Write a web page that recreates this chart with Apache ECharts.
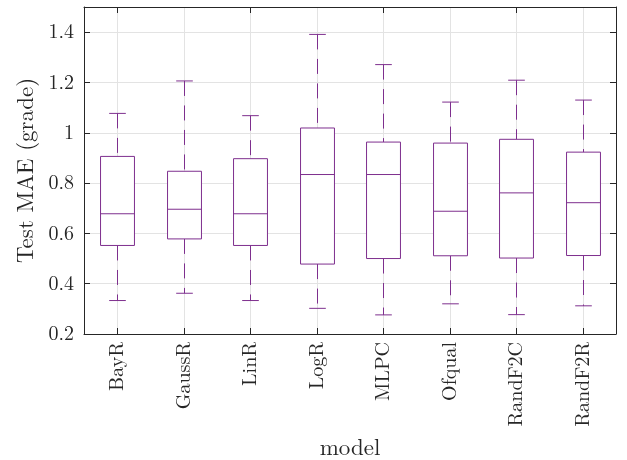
<!DOCTYPE html>
<html>
<head>
<meta charset="utf-8">
<script src="https://cdn.jsdelivr.net/npm/echarts@6/dist/echarts.min.js"></script>
<style>
html,body{margin:0;padding:0;background:#fff;}
#chart{width:627px;height:460px;}
</style>
</head>
<body>
<div id="chart"></div>
<script>
const categories = ['BayR','GaussR','LinR','LogR','MLPC','Ofqual','RandF2C','RandF2R'];
const whiskerLow  = [0.333, 0.362, 0.333, 0.302, 0.276, 0.320, 0.277, 0.312];
const q1Values    = [0.552, 0.578, 0.552, 0.478, 0.500, 0.511, 0.502, 0.512];
const medians     = [0.678, 0.696, 0.678, 0.834, 0.834, 0.688, 0.761, 0.722];
const q3Values    = [0.906, 0.847, 0.897, 1.019, 0.963, 0.959, 0.974, 0.923];
const whiskerHigh = [1.077, 1.206, 1.068, 1.391, 1.271, 1.122, 1.209, 1.130];
const yTicks = [0.2, 0.4, 0.6, 0.8, 1, 1.2, 1.4];

const FONT = '"Latin Modern Roman","Liberation Serif",serif';
const TXT = '#262626';
const PURPLE = '#7E2F8E';
const GRID = '#e3e3e3';

const boxData = categories.map((c, i) => [i, whiskerLow[i], q1Values[i], medians[i], q3Values[i], whiskerHigh[i]]);

const chart = echarts.init(document.getElementById('chart'), null, {renderer: 'canvas'});

function renderBox(params, api) {
  const i = api.value(0);
  const pLo = api.coord([i, api.value(1)]);
  const pQ1 = api.coord([i, api.value(2)]);
  const pMd = api.coord([i, api.value(3)]);
  const pQ3 = api.coord([i, api.value(4)]);
  const pHi = api.coord([i, api.value(5)]);
  const band = api.size([1, 0])[0];
  const bw = band * 0.51;
  const cw = band * 0.25;
  const cx = Math.round(pMd[0]) + 0.5;
  const solid = {stroke: PURPLE, lineWidth: 1, fill: null};
  const dashed = {stroke: PURPLE, lineWidth: 1, lineDash: [15, 9.5], fill: null};
  return {
    type: 'group',
    children: [
      {type: 'line', shape: {x1: cx, y1: pHi[1], x2: cx, y2: pQ3[1]}, style: dashed},
      {type: 'line', shape: {x1: cx, y1: pQ1[1], x2: cx, y2: pLo[1]}, style: dashed},
      {type: 'line', shape: {x1: cx - cw / 2, y1: pHi[1], x2: cx + cw / 2, y2: pHi[1]}, style: solid},
      {type: 'line', shape: {x1: cx - cw / 2, y1: pLo[1], x2: cx + cw / 2, y2: pLo[1]}, style: solid},
      {type: 'rect', shape: {x: cx - bw / 2, y: pQ3[1], width: bw, height: pQ1[1] - pQ3[1]}, style: {stroke: PURPLE, lineWidth: 1, fill: '#fff'}},
      {type: 'line', shape: {x1: cx - bw / 2, y1: pMd[1], x2: cx + bw / 2, y2: pMd[1]}, style: solid}
    ]
  };
}

function renderVGrid(params, api) {
  const i = api.value(0);
  const top = api.coord([i, 1.5]);
  const bot = api.coord([i, 0.2]);
  const x = Math.round(top[0]) + 0.5;
  return {type: 'line', shape: {x1: x, y1: top[1], x2: x, y2: bot[1]}, style: {stroke: GRID, lineWidth: 1}};
}

const option = {
  animation: false,
  backgroundColor: '#fff',
  grid: {left: 84, right: 11, top: 7, bottom: 126, show: false, containLabel: false, outerBoundsMode: 'none'},
  xAxis: [{
    type: 'category',
    data: categories,
    boundaryGap: true,
    position: 'bottom',
    name: 'model',
    nameLocation: 'middle',
    nameGap: 102,
    nameTextStyle: {fontFamily: FONT, fontSize: 23, color: TXT},
    axisLine: {show: true, lineStyle: {color: TXT, width: 1}},
    axisTick: {show: true, inside: true, alignWithLabel: true, length: 6, lineStyle: {color: TXT}},
    axisLabel: {rotate: 90, margin: 8, fontFamily: FONT, fontSize: 20, color: TXT, interval: 0},
    splitLine: {show: false}
  }, {
    type: 'category',
    data: categories,
    boundaryGap: true,
    position: 'top',
    axisLine: {show: true, lineStyle: {color: TXT, width: 1}},
    axisTick: {show: true, inside: true, alignWithLabel: true, length: 6, lineStyle: {color: TXT}},
    axisLabel: {show: false},
    splitLine: {show: false}
  }],
  yAxis: [{
    type: 'value',
    min: 0.2, max: 1.5, interval: 0.2,
    name: 'Test MAE (grade)',
    nameLocation: 'middle',
    nameGap: 42,
    nameTextStyle: {fontFamily: FONT, fontSize: 23, color: TXT},
    axisLine: {show: true, lineStyle: {color: TXT, width: 1}},
    axisTick: {show: true, inside: true, length: 6, lineStyle: {color: TXT}},
    axisLabel: {margin: 10, fontFamily: FONT, fontSize: 20, color: TXT, showMaxLabel: false,
      formatter: v => (Math.abs(v - 1.5) < 1e-9 ? '' : String(+v.toFixed(1)))},
    splitLine: {show: true, lineStyle: {color: GRID, width: 1}}
  }, {
    type: 'value',
    min: 0.2, max: 1.5, interval: 0.2,
    position: 'right',
    axisLine: {show: true, lineStyle: {color: TXT, width: 1}},
    axisTick: {show: true, inside: true, length: 6, lineStyle: {color: TXT}},
    axisLabel: {show: false},
    splitLine: {show: false}
  }],
  series: [{
    type: 'custom',
    name: 'vgrid',
    xAxisIndex: 0, yAxisIndex: 0,
    z: 0,
    silent: true,
    renderItem: renderVGrid,
    data: categories.map((c, i) => [i]),
    encode: {x: 0}
  }, {
    type: 'custom',
    name: 'Test MAE',
    xAxisIndex: 0, yAxisIndex: 0,
    z: 2,
    renderItem: renderBox,
    data: boxData,
    encode: {x: 0, y: [1, 2, 3, 4, 5]}
  }]
};
chart.setOption(option);
</script>
</body>
</html>
